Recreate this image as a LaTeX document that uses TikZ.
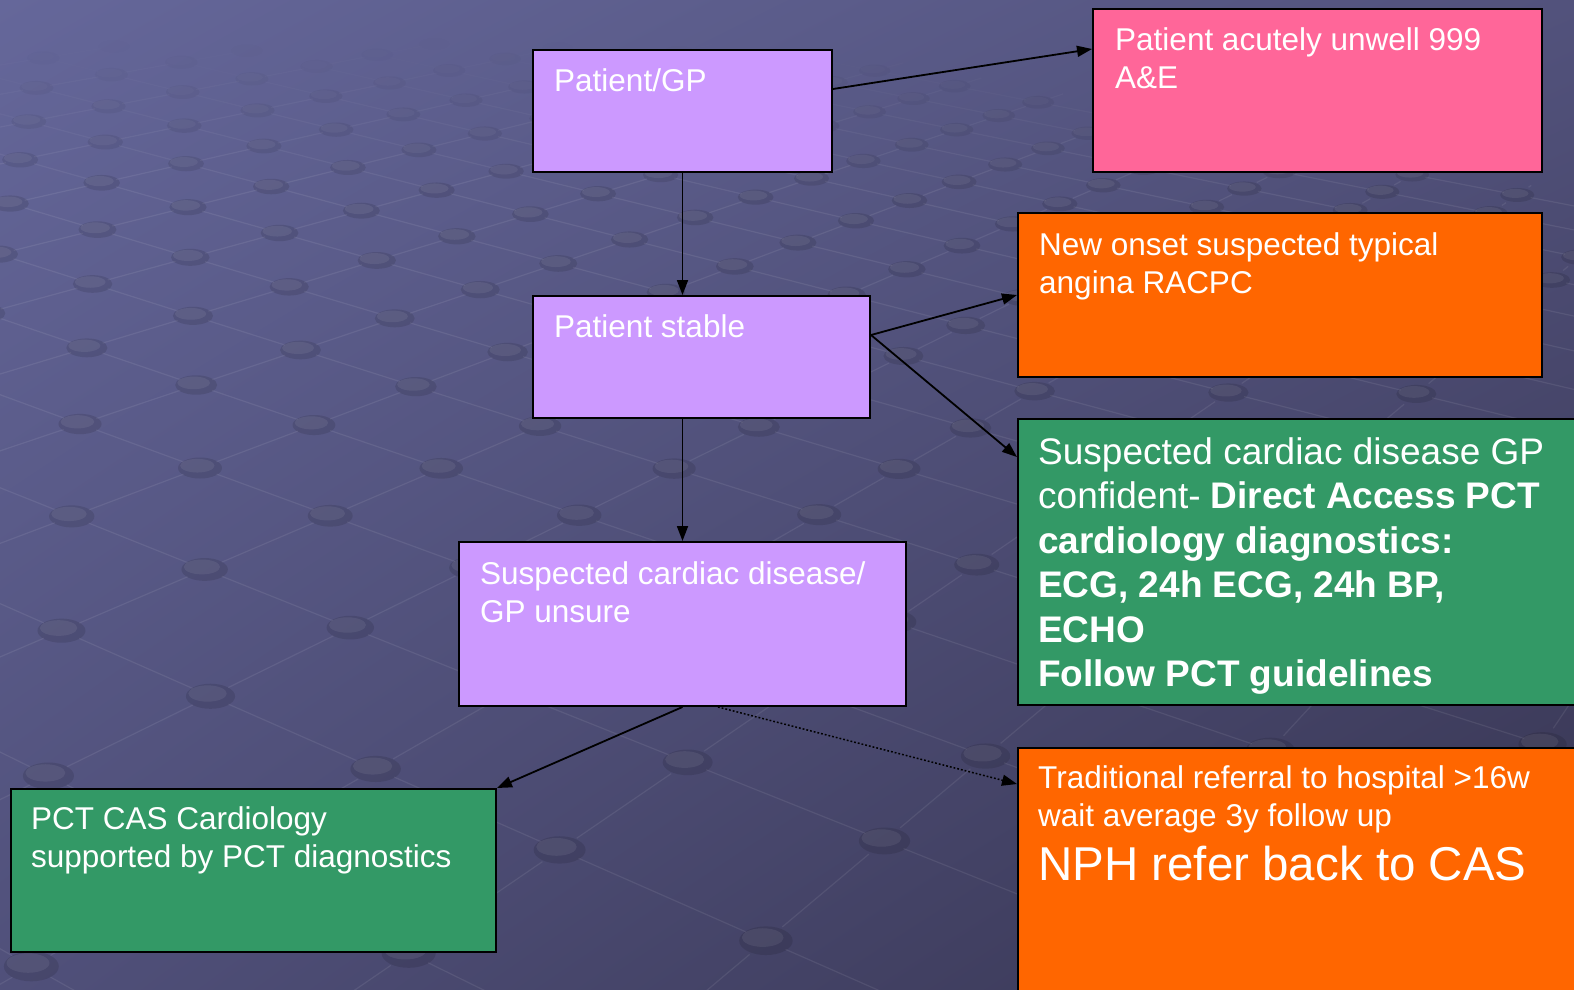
\documentclass[tikz,border=0pt]{standalone}
\usepackage{fontspec}
\setmainfont{Liberation Sans}
\usetikzlibrary{arrows.meta,calc,shadings}
\definecolor{lav}{HTML}{CC99FF}
\definecolor{pinkc}{HTML}{FF6699}
\definecolor{orc}{HTML}{FF6600}
\definecolor{grc}{HTML}{339966}
\definecolor{bgUL}{RGB}{101,103,154}
\definecolor{bgUR}{RGB}{82,82,124}
\definecolor{bgLL}{RGB}{80,80,122}
\definecolor{bgLR}{RGB}{54,52,80}
\pgfmathdeclarefunction{gd}{2}{\pgfmathparse{1-0.041*#1+0.059*#2}}
\pgfmathdeclarefunction{gx}{2}{\pgfmathparse{200+(124.9*#1+120.7*#2)/(1-0.041*#1+0.059*#2)}}
\pgfmathdeclarefunction{gy}{2}{\pgfmathparse{468+(45.8*#1-45.5*#2)/(1-0.041*#1+0.059*#2)}}
\tikzset{
  box/.style={draw=black, line width=2pt, anchor=north west, inner sep=0pt},
  txt/.style={anchor=base west, align=left, inner sep=0pt, text=white,
              font=\fontsize{31.5}{38}\selectfont},
  bigtxt/.style={anchor=base west, align=left, inner sep=0pt, text=white,
              font=\fontsize{37}{44.5}\selectfont},
  hugetxt/.style={anchor=base west, align=left, inner sep=0pt, text=white,
              font=\fontsize{47.5}{56}\selectfont},
  arr/.style={draw=black, line width=1.8pt, -{Triangle[length=15pt,width=11pt]}},
  gridline/.style={draw=white, line width=1.2pt},
}
\begin{document}
\begin{tikzpicture}[x=1pt,y=-1pt]
\useasboundingbox (0,0) rectangle (1574,989);
\clip (0,0) rectangle (1574,989);
\shade[upper left=bgUL, upper right=bgUR, lower left=bgLL, lower right=bgLR]
  (0,0) rectangle (1574,989);
% background perspective grid: lines (stopping at the dots)
\foreach \u in {-12,...,10}{
  \foreach \v in {-6,...,14}{
    \pgfmathsetmacro\xa{gx(\u,\v)}
    \pgfmathsetmacro\ya{gy(\u,\v)}
    \pgfmathsetmacro\xb{gx(\u+1,\v)}
    \pgfmathsetmacro\yb{gy(\u+1,\v)}
    \pgfmathsetmacro\xc{gx(\u,\v+1)}
    \pgfmathsetmacro\yc{gy(\u,\v+1)}
    \pgfmathsetmacro\ra{17.6/sqrt(gd(\u,\v))}
    \pgfmathsetmacro\rb{17.6/sqrt(gd(\u+1,\v))}
    \pgfmathsetmacro\rc{17.6/sqrt(gd(\u,\v+1))}
    \pgfmathsetmacro\op{max(0,min(1,(\ya-40)/150))}
    \pgfmathsetmacro\lo{0.08*\op}
    \draw[gridline, draw opacity=\lo, shorten <=\ra pt, shorten >=\rb pt] (\xa,\ya) -- (\xb,\yb);
    \draw[gridline, draw opacity=\lo, shorten <=\ra pt, shorten >=\rc pt] (\xa,\ya) -- (\xc,\yc);
  }
}
% background perspective grid: dots
\foreach \u in {-12,...,10}{
  \foreach \v in {-6,...,14}{
    \pgfmathsetmacro\d{gd(\u,\v)}
    \pgfmathsetmacro\xa{gx(\u,\v)}
    \pgfmathsetmacro\ya{gy(\u,\v)}
    \pgfmathsetmacro\op{max(0,min(1,(\ya-40)/150))}
    \pgfmathsetmacro\dop{0.11*\op}
    \pgfmathsetmacro\hop{0.07*\op}
    \pgfmathsetmacro\rx{22/sqrt(\d)}
    \pgfmathsetmacro\ry{10.5/(\d^0.8)}
    \fill[black, fill opacity=\dop] (\xa,\ya) ellipse [x radius=\rx pt, y radius=\ry pt];
    \fill[white, fill opacity=\hop] (\xa-0.12*\rx,\ya-0.22*\ry) ellipse [x radius=0.78*\rx pt, y radius=0.65*\ry pt];
  }
}
% boxes
\node[box, fill=lav, minimum width=299pt, minimum height=122pt] (gp) at (532,49) {};
\node[box, fill=pinkc, minimum width=449pt, minimum height=163pt] (pink) at (1092,8) {};
\node[box, fill=orc, minimum width=524pt, minimum height=164pt] (or1) at (1017,212) {};
\node[box, fill=lav, minimum width=337pt, minimum height=122pt] (stable) at (532,295) {};
\node[box, fill=grc, minimum width=580pt, minimum height=286pt] (green) at (1017,418) {};
\node[box, fill=lav, minimum width=447pt, minimum height=164pt] (unsure) at (458,541) {};
\node[box, fill=grc, minimum width=485pt, minimum height=163pt] (pct) at (10,788) {};
\node[box, fill=orc, minimum width=580pt, minimum height=260pt] (or2) at (1017,747) {};
% texts (base anchor = baseline of the last line)
\node[txt] (tgp) at (554,91) {Patient/GP};
\node[txt] (tpink) at (1115,88) {Patient acutely unwell 999\\A\&E};
\node[txt] (tor1) at (1039,293) {New onset suspected typical\\angina RACPC};
\node[txt] (tstable) at (554,337) {Patient stable};
\node[txt] (tunsure) at (480,622) {Suspected cardiac disease/\\GP unsure};
\node[bigtxt] (tgreen) at (1038,686.5) {Suspected cardiac disease GP\\confident- \textbf{Direct Access PCT}\\\textbf{cardiology diagnostics:}\\\textbf{ECG, 24h ECG, 24h BP,}\\\textbf{ECHO}\\\textbf{Follow PCT guidelines}};
\node[txt] (tor2) at (1038,826.5) {Traditional referral to hospital >16w\\wait average 3y follow up};
\node[hugetxt] (tor2b) at (1038,880) {NPH refer back to CAS};
\node[txt] (tpct) at (31,867) {PCT CAS Cardiology\\supported by PCT diagnostics};
% connectors
\draw[arr] ($(gp.north east)+(0,40)$) -- ($(pink.north west)+(0,41)$);
\draw[arr] (gp.south) -- (gp.south |- stable.north);
\draw[arr] ($(stable.north east)+(0,40)$) -- ($(or1.north west)+(0,83)$);
\draw[arr] ($(stable.north east)+(0,40)$) -- ($(green.north west)+(0,39)$);
\draw[arr] (unsure.north |- stable.south) -- (unsure.north);
\draw[arr] (unsure.south) -- (pct.north east);
\draw[arr, dotted, line width=1.5pt] ($(unsure.south west)+(260,0)$) -- ($(or2.north west)+(0,37)$);
\end{tikzpicture}
\end{document}
